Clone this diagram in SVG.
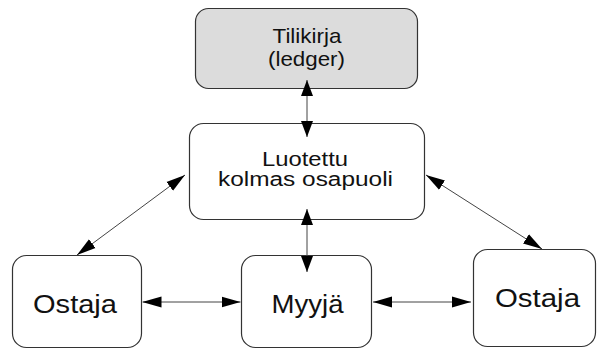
<svg xmlns="http://www.w3.org/2000/svg" width="597" height="351" viewBox="0 0 597 351">
  <style>
    .box { fill: #ffffff; stroke: #333333; stroke-width: 1.2; }
    .ledger { fill: #dcdcdc; }
    .lbl { font-family: "Liberation Sans", Arial, sans-serif; fill: #111111; text-anchor: middle; }
    .conn { stroke: #444444; stroke-width: 1; fill: none; marker-start: url(#ah); marker-end: url(#ah); }
    .connv { stroke: #444444; stroke-width: 1; fill: none; marker-start: url(#ahv); marker-end: url(#ahv); }
  </style>
  <defs>
    <marker id="ah" markerUnits="userSpaceOnUse" markerWidth="19" markerHeight="12" refX="19" refY="6" orient="auto-start-reverse">
      <path d="M0,0.5 L19,6 L0,11.5 z" fill="#000000"/>
    </marker>
    <marker id="ahv" markerUnits="userSpaceOnUse" markerWidth="16" markerHeight="12" refX="16" refY="6" orient="auto-start-reverse">
      <path d="M0,0 L16,6 L0,12 z" fill="#000000"/>
    </marker>
  </defs>

  <g id="ledger">
    <rect class="box ledger" x="195.5" y="8.5" width="222" height="80" rx="13"/>
    <text class="lbl" x="307" y="43" font-size="21" textLength="69" lengthAdjust="spacingAndGlyphs">Tilikirja</text>
    <text class="lbl" x="306.5" y="66" font-size="21" textLength="77" lengthAdjust="spacingAndGlyphs">(ledger)</text>
  </g>

  <g id="trusted">
    <rect class="box" x="189.5" y="123.5" width="235" height="96" rx="14"/>
    <text class="lbl" x="305" y="166" font-size="20" textLength="86" lengthAdjust="spacingAndGlyphs">Luotettu</text>
    <text class="lbl" x="305.5" y="186" font-size="20" textLength="175" lengthAdjust="spacingAndGlyphs">kolmas osapuoli</text>
  </g>

  <g id="buyer-left">
    <rect class="box" x="12.5" y="255.5" width="129" height="92" rx="14"/>
    <text class="lbl" x="75" y="313" font-size="25" textLength="84" lengthAdjust="spacingAndGlyphs">Ostaja</text>
  </g>

  <g id="seller">
    <rect class="box" x="241.5" y="255.5" width="130" height="92" rx="14"/>
    <text class="lbl" x="307.5" y="313" font-size="25" textLength="72" lengthAdjust="spacingAndGlyphs">Myyjä</text>
  </g>

  <g id="buyer-right">
    <rect class="box" x="473.5" y="249.5" width="122" height="97" rx="14"/>
    <text class="lbl" x="537.5" y="307" font-size="25" textLength="85" lengthAdjust="spacingAndGlyphs">Ostaja</text>
  </g>

  <g id="connectors">
    <line class="connv" x1="307" y1="80" x2="307" y2="137"/>
    <line class="connv" x1="307" y1="209" x2="307" y2="272"/>
    <line class="conn" x1="185" y1="175" x2="77" y2="255"/>
    <line class="conn" x1="426" y1="175" x2="542" y2="249"/>
    <line class="conn" x1="142.5" y1="302" x2="240.5" y2="302"/>
    <line class="conn" x1="373" y1="302" x2="471" y2="302"/>
  </g>
</svg>
